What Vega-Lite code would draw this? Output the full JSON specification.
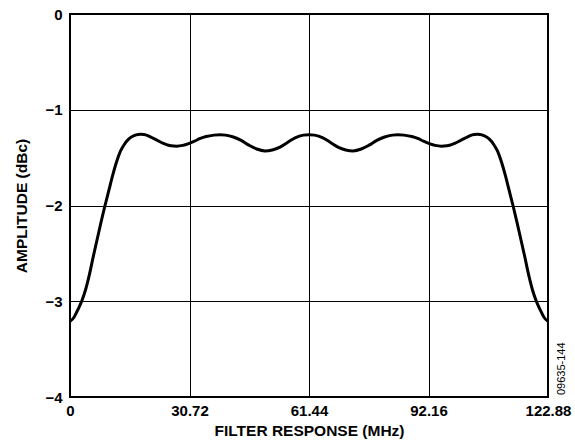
{
  "$schema": "https://vega.github.io/schema/vega-lite/v6.json",
  "width": 478,
  "height": 383,
  "autosize": "none",
  "padding": {"left": 70, "top": 14, "right": 27, "bottom": 48},
  "background": "white",
  "config": {
    "view": {"stroke": "black", "strokeWidth": 2},
    "font": "Liberation Sans",
    "axis": {
      "labelFont": "Liberation Sans",
      "titleFont": "Liberation Sans",
      "labelFontWeight": "bold",
      "titleFontWeight": "bold",
      "labelColor": "black",
      "titleColor": "black",
      "labelFontSize": 15,
      "titleFontSize": 15.5,
      "grid": true,
      "gridColor": "black",
      "gridWidth": 1,
      "gridOpacity": 1,
      "domain": false,
      "ticks": false
    }
  },
  "layer": [
    {
      "data": {"values": [
        {"f": 0, "a": -3.21}, {"f": 1, "a": -3.17}, {"f": 2, "a": -3.09}, {"f": 3, "a": -3.0},
        {"f": 4, "a": -2.88}, {"f": 5, "a": -2.72}, {"f": 6, "a": -2.53}, {"f": 7, "a": -2.35},
        {"f": 8, "a": -2.17}, {"f": 9, "a": -2.0}, {"f": 10, "a": -1.84}, {"f": 11, "a": -1.68},
        {"f": 12, "a": -1.54}, {"f": 13, "a": -1.43}, {"f": 14, "a": -1.36}, {"f": 15, "a": -1.31},
        {"f": 16, "a": -1.28}, {"f": 17, "a": -1.262}, {"f": 18, "a": -1.255}, {"f": 19, "a": -1.258},
        {"f": 20, "a": -1.27}, {"f": 21, "a": -1.29}, {"f": 22, "a": -1.31}, {"f": 23, "a": -1.332},
        {"f": 24, "a": -1.352}, {"f": 25, "a": -1.367}, {"f": 26, "a": -1.377}, {"f": 27.4, "a": -1.38},
        {"f": 29, "a": -1.372}, {"f": 30.5, "a": -1.353}, {"f": 32, "a": -1.328}, {"f": 33.5, "a": -1.3},
        {"f": 35, "a": -1.28}, {"f": 37, "a": -1.265}, {"f": 38.6, "a": -1.26}, {"f": 40, "a": -1.265},
        {"f": 42, "a": -1.285}, {"f": 44, "a": -1.32}, {"f": 46, "a": -1.37}, {"f": 48, "a": -1.41},
        {"f": 50.1, "a": -1.43}, {"f": 52, "a": -1.42}, {"f": 54, "a": -1.39}, {"f": 56, "a": -1.34},
        {"f": 58, "a": -1.29}, {"f": 60, "a": -1.265}, {"f": 61.44, "a": -1.26},
        {"f": 62.88, "a": -1.265}, {"f": 64.88, "a": -1.29}, {"f": 66.88, "a": -1.34}, {"f": 68.88, "a": -1.39},
        {"f": 70.88, "a": -1.42}, {"f": 72.78, "a": -1.43}, {"f": 74.88, "a": -1.41}, {"f": 76.88, "a": -1.37},
        {"f": 78.88, "a": -1.32}, {"f": 80.88, "a": -1.285}, {"f": 82.88, "a": -1.265}, {"f": 84.28, "a": -1.26},
        {"f": 85.88, "a": -1.265}, {"f": 87.88, "a": -1.28}, {"f": 89.38, "a": -1.3}, {"f": 90.88, "a": -1.328},
        {"f": 92.38, "a": -1.353}, {"f": 93.88, "a": -1.372}, {"f": 95.48, "a": -1.38}, {"f": 96.88, "a": -1.377},
        {"f": 97.88, "a": -1.367}, {"f": 98.88, "a": -1.352}, {"f": 99.88, "a": -1.332}, {"f": 100.88, "a": -1.31},
        {"f": 101.88, "a": -1.29}, {"f": 102.88, "a": -1.27}, {"f": 103.88, "a": -1.258}, {"f": 104.88, "a": -1.255},
        {"f": 105.88, "a": -1.262}, {"f": 106.88, "a": -1.28}, {"f": 107.88, "a": -1.31}, {"f": 108.88, "a": -1.36},
        {"f": 109.88, "a": -1.43}, {"f": 110.88, "a": -1.54}, {"f": 111.88, "a": -1.68}, {"f": 112.88, "a": -1.84},
        {"f": 113.88, "a": -2.0}, {"f": 114.88, "a": -2.17}, {"f": 115.88, "a": -2.35}, {"f": 116.88, "a": -2.53},
        {"f": 117.88, "a": -2.72}, {"f": 118.88, "a": -2.88}, {"f": 119.88, "a": -3.0}, {"f": 120.88, "a": -3.09},
        {"f": 121.88, "a": -3.17}, {"f": 122.88, "a": -3.21}
      ]},
      "mark": {"type": "line", "color": "black", "strokeWidth": 3, "interpolate": "monotone", "clip": true},
      "encoding": {
        "x": {
          "field": "f", "type": "quantitative",
          "scale": {"domain": [0, 122.88], "nice": false, "zero": false},
          "axis": {
            "values": [0, 30.72, 61.44, 92.16, 122.88],
            "labelExpr": "datum.value == 0 ? '0' : format(datum.value, '.2f')",
            "labelOverlap": false,
            "labelFlush": false,
            "labelPadding": 6,
            "titlePadding": 5,
            "title": "FILTER RESPONSE (MHz)"
          }
        },
        "y": {
          "field": "a", "type": "quantitative",
          "scale": {"domain": [-4, 0], "nice": false, "zero": false},
          "axis": {
            "values": [-4, -3, -2, -1, 0],
            "format": "d",
            "labelPadding": 8,
            "titlePadding": 15,
            "title": "AMPLITUDE (dBc)"
          }
        }
      }
    },
    {
      "data": {"values": [{"f": 122.88, "a": -4, "code": "09635-144"}]},
      "mark": {"type": "text", "angle": 270, "align": "left", "baseline": "middle", "dx": 2, "dy": 14, "fontSize": 11, "font": "Liberation Sans", "color": "black", "clip": false},
      "encoding": {
        "x": {"field": "f", "type": "quantitative"},
        "y": {"field": "a", "type": "quantitative"},
        "text": {"field": "code"}
      }
    }
  ]
}
